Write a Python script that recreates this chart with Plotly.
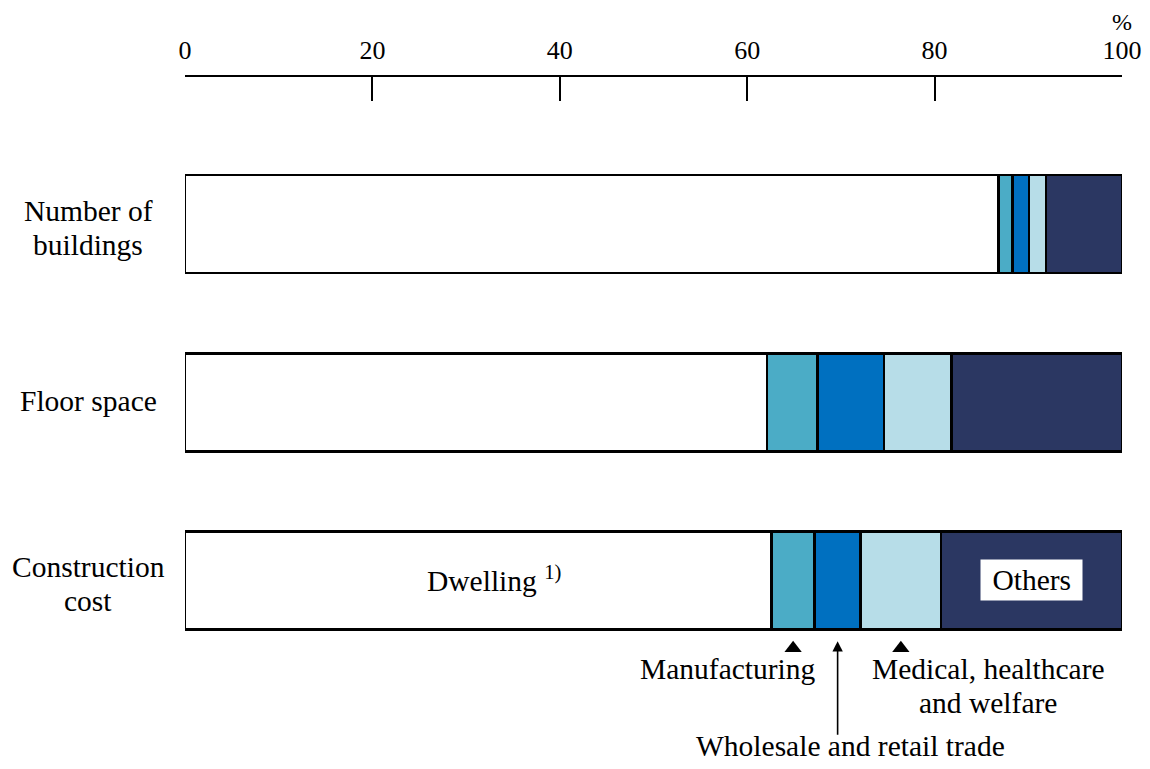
import plotly.graph_objects as go

categories = ["Number of buildings", "Floor space", "Construction cost"]
category_lines = [["Number of", "buildings"], ["Floor space"], ["Construction", "cost"]]
series_names = ["Dwelling", "Manufacturing", "Wholesale and retail trade",
                "Medical, healthcare and welfare", "Others"]
dwelling = [86.8, 62.1, 62.6]
manufacturing = [1.5, 5.4, 4.6]
wholesale = [1.8, 7.1, 4.9]
medical = [1.8, 7.2, 8.6]
others = [8.1, 18.2, 19.3]
x_ticks = [0, 20, 40, 60, 80, 100]

colors = ["#FFFFFF", "#4BACC6", "#0070C0", "#B7DDE8", "#2B3762"]
series = [dwelling, manufacturing, wholesale, medical, others]

FONT = "Liberation Serif"
LABEL_SIZE = 29.5
LINE_GAP = 34
fig = go.Figure()
ypos = [0, 1, 2]
for name, vals, col in zip(series_names, series, colors):
    fig.add_trace(go.Bar(
        y=ypos, x=vals, name=name, orientation="h",
        marker=dict(color=col, line=dict(color="black", width=2.5)),
        width=0.55, showlegend=False, hoverinfo="x+name",
    ))

# markers below the construction cost bar
cc = 2
m_center = dwelling[cc] + manufacturing[cc] / 2
w_center = dwelling[cc] + manufacturing[cc] + wholesale[cc] / 2
h_center = dwelling[cc] + manufacturing[cc] + wholesale[cc] + medical[cc] / 2
o_center = dwelling[cc] + manufacturing[cc] + wholesale[cc] + medical[cc] + others[cc] / 2
fig.add_trace(go.Scatter(
    x=[m_center, h_center], y=[2.38, 2.38], mode="markers",
    marker=dict(symbol="triangle-up", size=15, color="black"),
    showlegend=False, hoverinfo="skip", cliponaxis=False,
))

lab_font = dict(family=FONT, size=LABEL_SIZE, color="black")
annotations = []
for i, lines in enumerate(category_lines):
    n = len(lines)
    for j, line in enumerate(lines):
        shift = ((n - 1) / 2 - j) * LINE_GAP - (4 if n > 1 else -1)
        annotations.append(dict(
            x=-0.1035, xref="paper", y=ypos[i], yref="y", text=line,
            showarrow=False, xanchor="center", yanchor="middle",
            yshift=shift, font=lab_font,
        ))

medical_lines = ["Medical, healthcare", "and welfare"]
for j, line in enumerate(medical_lines):
    annotations.append(dict(
        x=85.7, y=-0.0, xref="x", yref="paper", text=line, showarrow=False,
        yanchor="middle", yshift=-j * LINE_GAP, font=lab_font))

annotations += [
    dict(x=33.0, y=2, xref="x", yref="y", text="Dwelling <sup>1)</sup>",
         showarrow=False, font=lab_font, yshift=1),
    dict(x=o_center, y=2, xref="x", yref="y", text="&nbsp;Others&nbsp;",
         showarrow=False, bgcolor="white", borderpad=4, font=lab_font),
    dict(x=w_center, y=0.047, xref="x", yref="paper", ax=0, ay=95,
         text="", showarrow=True, arrowhead=2,
         arrowsize=1.3, arrowwidth=1.6, arrowcolor="black"),
    dict(x=58.0, y=0.0, xref="x", yref="paper", text="Manufacturing",
         showarrow=False, yanchor="middle", font=lab_font),
    dict(x=71.0, y=-0.130, xref="x", yref="paper", text="Wholesale and retail trade",
         showarrow=False, yanchor="middle", font=lab_font),
    dict(x=100, xref="x", y=0.093 + 1, yref="paper", text="%", showarrow=False,
         yanchor="middle", font=dict(family=FONT, size=24, color="black")),
]

fig.update_layout(
    barmode="stack",
    width=1134, height=753,
    margin=dict(l=177, r=20, t=69, b=92),
    plot_bgcolor="white", paper_bgcolor="white",
    font=dict(family=FONT, size=26, color="black"),
    xaxis=dict(
        side="top", range=[0, 100], tickvals=x_ticks, ticks="inside",
        ticklen=24, tickwidth=2, tickcolor="black", showline=True,
        linecolor="black", linewidth=2, showgrid=False, zeroline=False,
        tickfont=dict(family=FONT, size=26, color="black"),
        ticklabelstandoff=6, fixedrange=True, automargin=False,
    ),
    yaxis=dict(
        range=[2.497, -0.826], showticklabels=False, showgrid=False,
        zeroline=False, showline=False, ticks="", fixedrange=True,
        automargin=False,
    ),
    annotations=annotations,
)

fig.write_html("out.html")
